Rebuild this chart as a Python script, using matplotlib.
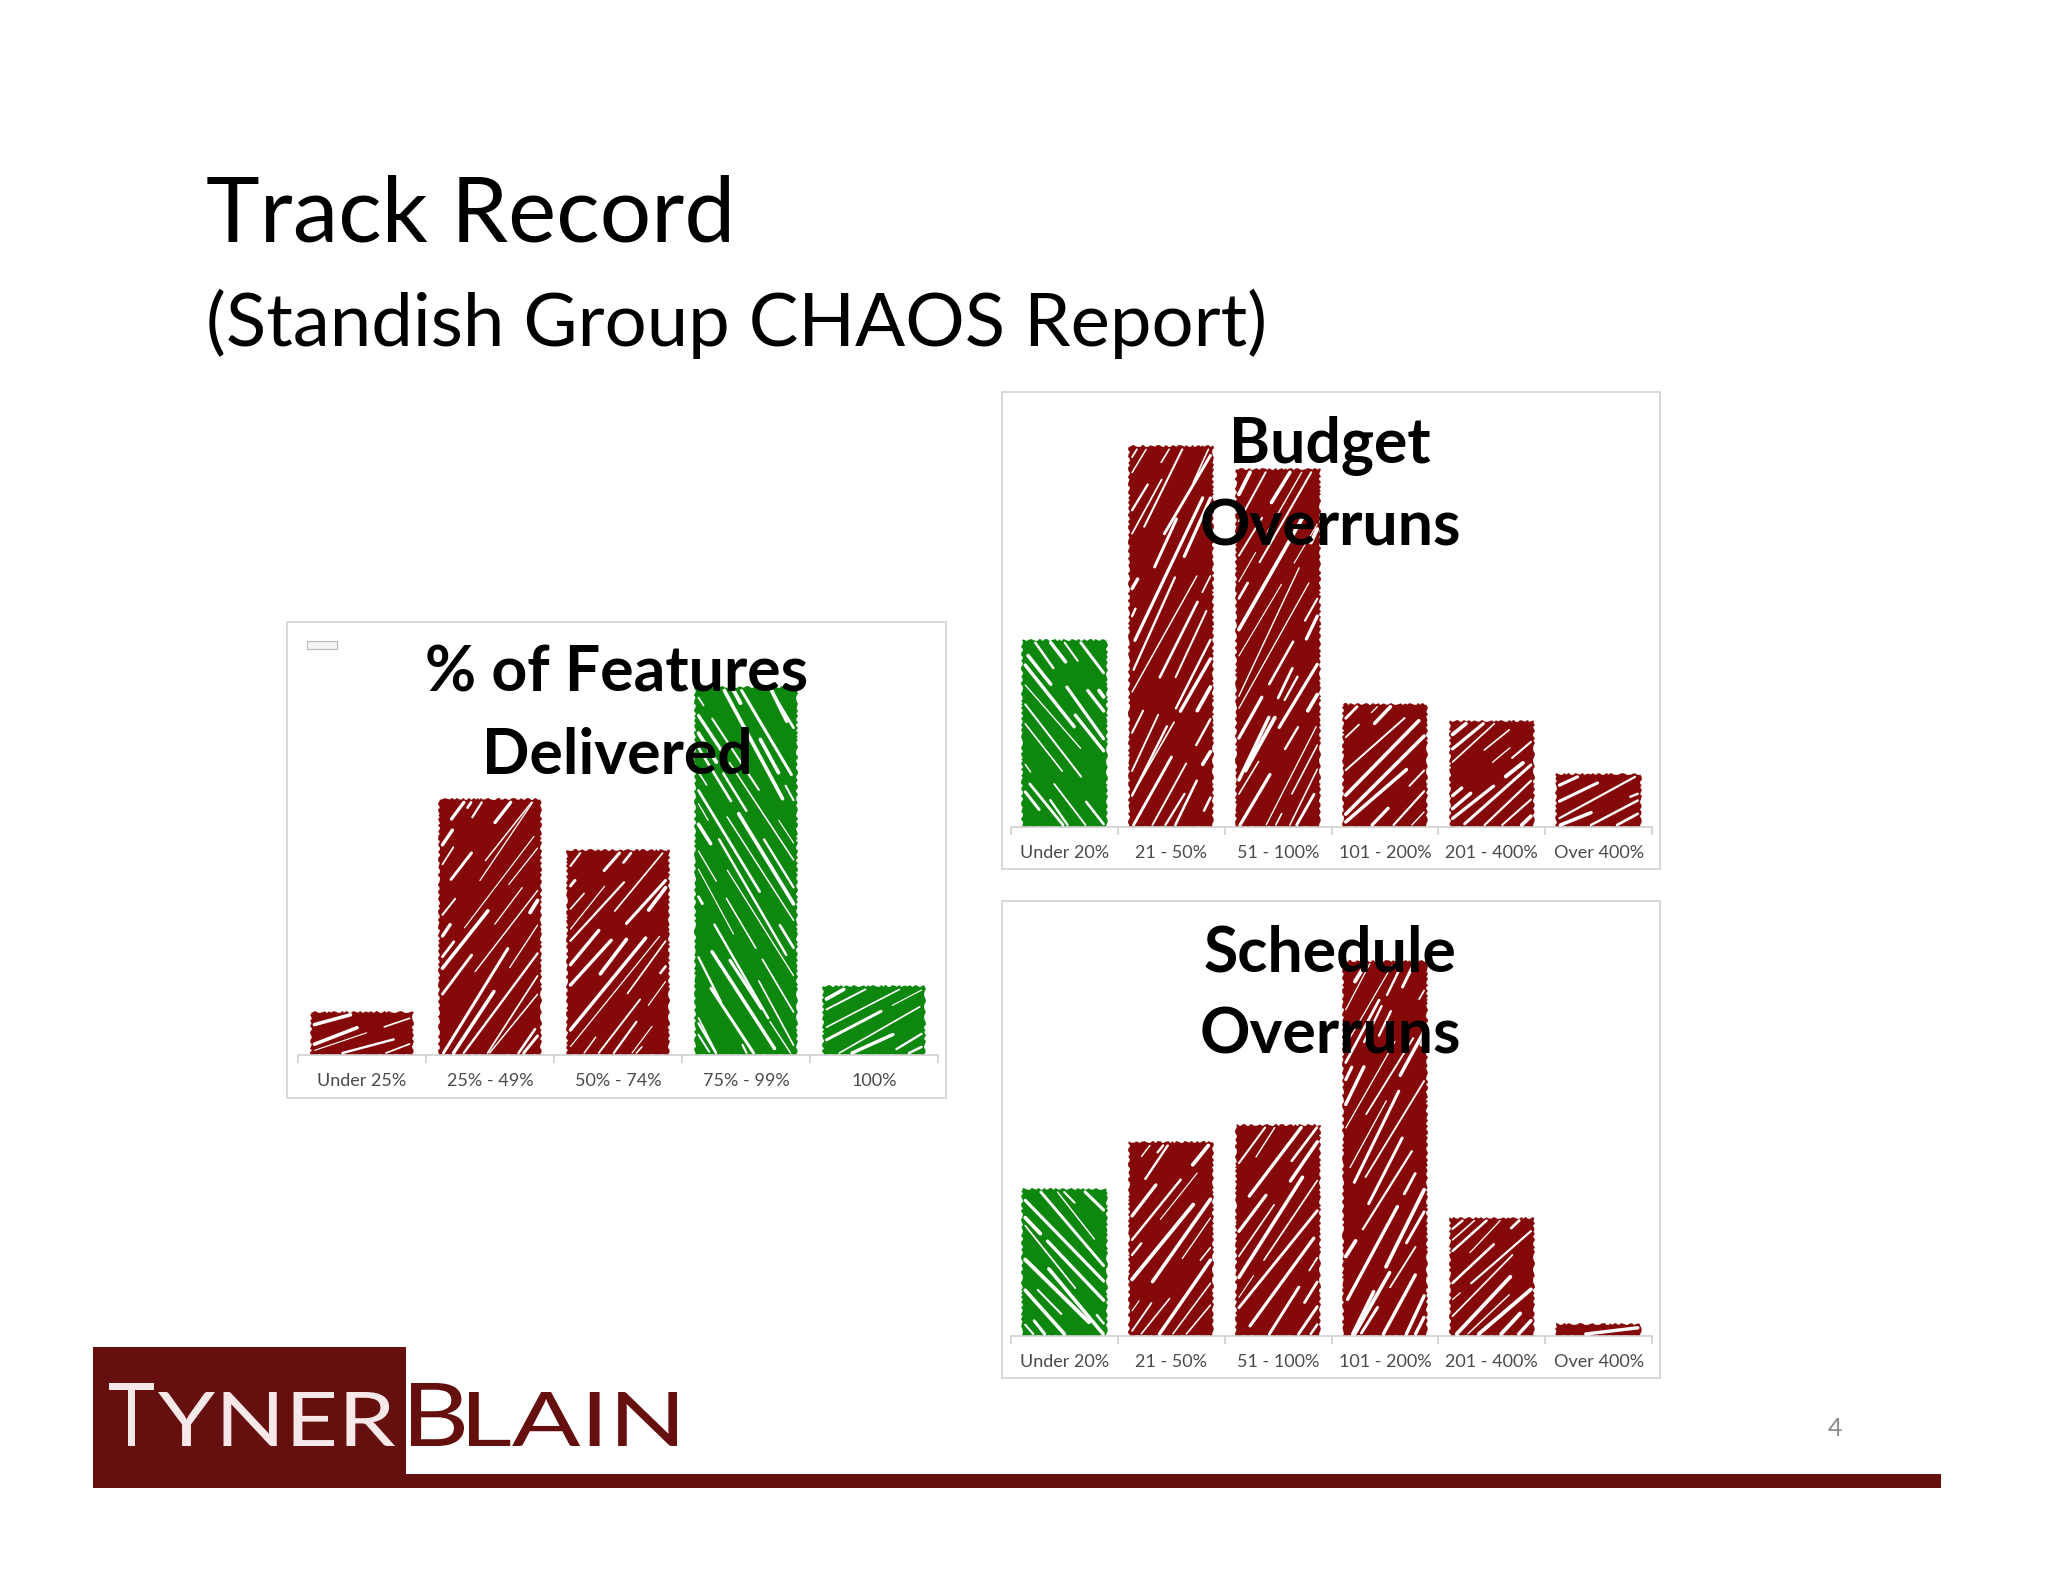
import numpy as np
import matplotlib
matplotlib.use("Agg")
import matplotlib.pyplot as plt
from matplotlib.patches import Rectangle, PathPatch
from matplotlib.collections import LineCollection
from matplotlib.textpath import TextPath
from matplotlib.font_manager import FontProperties
from matplotlib.transforms import Affine2D

# --- data (percent of projects, Standish Group CHAOS report) ---
feat_labels = ["Under 25%", "25% - 49%", "50% - 74%", "75% - 99%", "100%"]
feat_values = [4.6, 27.2, 21.8, 39.1, 7.3]
feat_good = [False, False, False, True, True]

over_labels = ["Under 20%", "21 - 50%", "51 - 100%", "101 - 200%", "201 - 400%", "Over 400%"]
budget_values = [15.5, 31.5, 29.6, 10.2, 8.8, 4.4]
schedule_values = [13.9, 18.3, 20.0, 35.5, 11.2, 1.1]
over_good = [True, False, False, False, False, False]

RED = "#850909"
GREEN = "#0e870e"
LOGO_RED = "#650f0f"

W, H = 2048, 1582
plt.rcParams["font.family"] = ["Lato", "DejaVu Sans"]
fig = plt.figure(figsize=(W / 100, H / 100), dpi=100)
fig.patch.set_facecolor("white")


def fx(px):
    return px / W


def fy(py):
    return 1 - py / H


def add_axes(x0, x1, ytop, ybot):
    return fig.add_axes([fx(x0), fy(ybot), fx(x1) - fx(x0), fy(ytop) - fy(ybot)])


def panel(x0, x1, y0, y1):
    fig.add_artist(Rectangle((fx(x0), fy(y1)), fx(x1) - fx(x0), fy(y0) - fy(y1),
                             transform=fig.transFigure, facecolor="white",
                             edgecolor="#d6d6d6", lw=1.3, zorder=-1))


def clip_seg(p0, p1, xmin, xmax, ymin, ymax):
    dx, dy = p1 - p0
    t0, t1 = 0.0, 1.0
    for p, q in ((-dx, p0[0] - xmin), (dx, xmax - p0[0]), (-dy, p0[1] - ymin), (dy, ymax - p0[1])):
        if p == 0:
            if q < 0:
                return None
        else:
            r = q / p
            if p < 0:
                t0 = max(t0, r)
            else:
                t1 = min(t1, r)
    if t0 >= t1:
        return None
    return p0 + t0 * (p1 - p0), p0 + t1 * (p1 - p0)


rng = np.random.default_rng(7)  # texture only (scribble strokes), not data


def scribble(ax, bar, slash):
    # white hand-drawn looking strokes inside the bar
    (x0, y0), (x1, y1) = ax.transData.transform(
        [(bar.get_x(), bar.get_y()), (bar.get_x() + bar.get_width(), bar.get_y() + bar.get_height())])
    w, h = x1 - x0, y1 - y0
    if h < 4:
        return
    base = np.clip(0.8 * np.arctan2(h, w), np.radians(9), np.radians(68))
    c = np.array([(x0 + x1) / 2, (y0 + y1) / 2])
    R = 0.5 * np.hypot(w, h) + 10
    inv = ax.transData.inverted()
    segs, lws = [], []
    t = -R
    while t < R:
        ang = base + np.radians(rng.uniform(-4, 4))
        d = np.array([np.cos(ang), np.sin(ang) if slash else -np.sin(ang)])
        n = np.array([-np.sin(base), np.cos(base)]) if slash else np.array([np.sin(base), np.cos(base)])
        s = -R + rng.uniform(0, 30)
        while s < R:
            seg = rng.uniform(20, 160)
            p0 = c + t * n + s * d
            p1 = c + t * n + min(s + seg, R) * d
            cl = clip_seg(p0, p1, x0 + 3, x1 - 3, y0 + 2, y1 - 3)
            if cl is not None and np.hypot(*(cl[1] - cl[0])) > 6:
                segs.append(inv.transform(np.array(cl)))
                lws.append(rng.uniform(0.8, 2.8))
            s += seg + rng.uniform(10, 55)
        t += rng.uniform(8, 16)
    ax.add_collection(LineCollection(segs, colors="white", linewidths=lws,
                                     capstyle="round", zorder=3))


def chart(ax, labels, values, good, ymax, dirs=None):
    n = len(values)
    x = np.arange(n)
    ax.set_xlim(-0.5, n - 0.5)
    ax.set_ylim(0, ymax)
    ax.set_autoscale_on(False)
    colors = [GREEN if g else RED for g in good]
    bars = ax.bar(x, values, width=0.79, color=colors, linewidth=0, zorder=2)
    for i, b in enumerate(bars):
        b.set_sketch_params(scale=0.9, length=10, randomness=4)
        slash = (not good[i]) if dirs is None else dirs[i]
        scribble(ax, b, slash)
    for s in ["top", "left", "right"]:
        ax.spines[s].set_visible(False)
    ax.spines["bottom"].set_color("#d0d0d0")
    ax.spines["bottom"].set_linewidth(1.2)
    ax.set_yticks([])
    ax.set_xticks(x)
    ax.set_xticklabels(labels, fontsize=13, color="#4a4a4a")
    ax.set_xticks(np.arange(n + 1) - 0.5, minor=True)
    ax.tick_params(axis="x", which="major", length=0, pad=13)
    ax.tick_params(axis="x", which="minor", length=6, color="#d0d0d0", width=1.2)
    ax.set_facecolor("none")


# panels
panel(287, 946, 622, 1098)
panel(1002, 1660, 392, 869)
panel(1002, 1660, 901, 1378)

ax1 = add_axes(298, 938, 632, 1055)
chart(ax1, feat_labels, feat_values, feat_good, 45, dirs=[True, True, True, False, True])
ax2 = add_axes(1011, 1652, 404, 827)
chart(ax2, over_labels, budget_values, over_good, 35)
ax3 = add_axes(1011, 1652, 913, 1336)
chart(ax3, over_labels, schedule_values, over_good, 40)

# small legend-button artefact in the features panel
fig.add_artist(Rectangle((fx(307), fy(649)), fx(30), 8 / H, transform=fig.transFigure,
                         facecolor="#f4f4f4", edgecolor="#b8b8b8", lw=0.8))

# chart titles
tkw = dict(fontsize=45, fontweight="bold", ha="center", va="baseline", color="black", zorder=5)
fig.text(fx(617), fy(691), "% of Features", **tkw)
fig.text(fx(617), fy(774), "Delivered", **tkw)
fig.text(fx(1330), fy(462), "Budget", **tkw)
fig.text(fx(1330), fy(545), "Overruns", **tkw)
fig.text(fx(1330), fy(971), "Schedule", **tkw)
fig.text(fx(1330), fy(1054), "Overruns", **tkw)

# slide title
fig.text(fx(206), fy(242), "Track Record", fontsize=65.5, ha="left", va="baseline")
fig.text(fx(206), fy(346), "(Standish Group CHAOS Report)", fontsize=53.5, ha="left", va="baseline")

# logo / footer
fig.add_artist(Rectangle((fx(93), fy(1488)), fx(313), 141 / H, transform=fig.transFigure,
                         facecolor=LOGO_RED, edgecolor="none"))
fig.add_artist(Rectangle((fx(406), fy(1488)), fx(1535), 14 / H, transform=fig.transFigure,
                         facecolor=LOGO_RED, edgecolor="none"))

logo_font = FontProperties(family=["Lato", "DejaVu Sans"], weight="normal")


def logo_text(s, x0, x1, base, cap, color):
    # stretched wordmark letters fitted into a pixel box
    tp = TextPath((0, 0), s, size=100, prop=logo_font)
    ext = tp.get_extents()
    sx = (x1 - x0) / ext.width
    sy = cap / ext.y1
    tr = (Affine2D().translate(-ext.x0, 0).scale(sx / W, sy / H)
          .translate(fx(x0), fy(base)) + fig.transFigure)
    fig.add_artist(PathPatch(tp, transform=tr, facecolor=color, edgecolor="none", zorder=3))


logo_text("T", 109, 154, 1446, 63, "#f6e8e8")
logo_text("YNER", 158, 395, 1446, 54, "#f6e8e8")
logo_text("B", 411, 464, 1446, 63, LOGO_RED)
logo_text("LAIN", 469, 677, 1446, 54, LOGO_RED)

fig.text(fx(1835), fy(1436), "4", fontsize=18, color="#8c8c8c", ha="center", va="baseline")

fig.savefig("out.png", dpi=100)
